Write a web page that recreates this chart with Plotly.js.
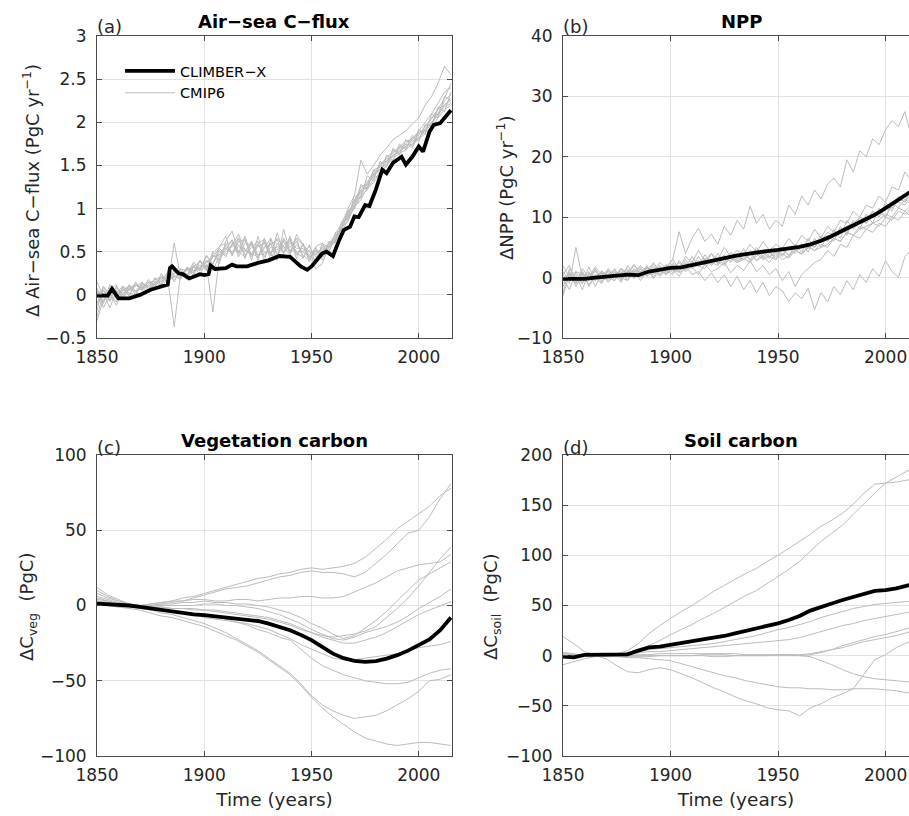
<!DOCTYPE html>
<html>
<head>
<meta charset="utf-8">
<script src="https://cdn.plot.ly/plotly-3.0.1.min.js"></script>
<style>
  html, body { margin: 0; padding: 0; background: #fff; }
  #chart { width: 909px; height: 816px; }
</style>
</head>
<body>
<div id="chart"></div>
<script>
// years of the CMIP6 curves (3-yr samples for the noisy fluxes, 5-yr for the pools)
const years3 = [1850,1853,1856,1859,1862,1865,1868,1871,1874,1877,1880,1883,1886,1889,1892,1895,
  1898,1901,1904,1907,1910,1913,1916,1919,1922,1925,1928,1931,1934,1937,1940,1943,1946,1949,1952,
  1955,1958,1961,1964,1967,1970,1973,1976,1979,1982,1985,1988,1991,1994,1997,2000,2003,2006,2009,
  2012,2015];
const years5 = [1850,1855,1860,1865,1870,1875,1880,1885,1890,1895,1900,1905,1910,1915,1920,1925,
  1930,1935,1940,1945,1950,1955,1960,1965,1970,1975,1980,1985,1990,1995,2000,2005,2010,2015];

// (a) air-sea C flux, PgC/yr
const climberFluxYears = [1850,1855,1857,1860,1865,1870,1875,1880,1883,1884,1885,1888,1890,1893,1895,
  1898,1900,1902,1903,1905,1910,1913,1915,1920,1925,1930,1935,1940,1945,1948,1950,1955,1957,1960,1963,
  1965,1968,1970,1972,1975,1977,1980,1983,1985,1988,1990,1992,1994,1997,2000,2002,2005,2007,2010,2015];
const climberFlux = [-0.01,-0.01,0.07,-0.04,-0.04,0.0,0.06,0.10,0.12,0.31,0.33,0.25,0.24,0.19,0.21,
  0.24,0.23,0.24,0.34,0.30,0.31,0.35,0.33,0.33,0.37,0.40,0.45,0.44,0.33,0.29,0.33,0.48,0.50,0.45,0.64,
  0.75,0.79,0.91,0.90,1.04,1.03,1.22,1.45,1.41,1.53,1.56,1.60,1.51,1.60,1.72,1.66,1.89,1.97,1.99,2.14];
const cmipFlux = [
  [-0.12,0.05,-0.08,0.10,-0.02,0.12,0.00,0.15,0.05,0.20,0.12,0.28,0.15,0.30,0.22,0.38,0.28,0.45,0.35,0.55,0.68,0.45,0.66,0.42,0.62,0.40,0.66,0.45,0.72,0.48,0.66,0.42,0.60,0.38,0.55,0.40,0.62,0.60,0.85,0.88,1.15,1.12,1.38,1.32,1.55,1.48,1.70,1.62,1.80,1.72,1.92,1.86,2.10,2.05,2.30,2.25],
  [0.08,-0.10,0.12,-0.05,0.08,-0.02,0.15,0.05,0.18,0.08,0.25,0.12,0.60,0.20,0.32,0.22,0.40,0.28,0.50,0.36,0.62,0.74,0.48,0.65,0.40,0.68,0.44,0.60,0.40,0.76,0.50,0.66,0.42,0.58,0.36,0.60,0.48,0.72,0.75,0.98,1.00,1.28,1.22,1.45,1.40,1.62,1.55,1.75,1.68,1.85,1.78,1.98,1.95,2.18,2.12,2.35],
  [-0.25,0.02,-0.15,0.05,-0.05,0.08,0.02,0.10,0.02,0.15,0.10,0.18,-0.37,0.25,0.18,0.35,0.22,0.40,0.28,0.45,0.52,0.64,0.44,0.60,0.58,0.42,0.62,0.40,0.60,0.48,0.68,0.46,0.58,0.46,0.40,0.58,0.50,0.65,0.80,0.90,1.10,1.20,1.25,1.42,1.45,1.52,1.68,1.65,1.75,1.70,1.88,1.90,1.98,2.15,2.20,2.28],
  [0.05,-0.15,0.00,-0.08,0.10,0.00,0.12,0.06,0.15,0.10,0.22,0.15,0.25,0.28,0.20,0.32,0.28,0.35,-0.20,0.42,0.50,0.56,0.66,0.46,0.55,0.62,0.40,0.64,0.46,0.66,0.50,0.62,0.46,0.40,0.52,0.44,0.60,0.62,0.76,0.95,1.05,1.15,1.32,1.36,1.50,1.58,1.60,1.72,1.70,1.80,1.85,1.95,2.05,2.10,2.25,2.32],
  [-0.10,0.10,0.00,0.05,0.00,0.10,0.05,0.12,0.10,0.18,0.20,0.22,0.25,0.30,0.28,0.25,0.35,0.30,0.48,0.56,0.60,0.46,0.62,0.64,0.46,0.60,0.64,0.48,0.66,0.56,0.46,0.70,0.58,0.50,0.46,0.55,0.58,0.70,0.82,1.00,1.15,1.56,1.40,1.50,1.62,1.70,1.80,1.85,1.90,1.98,2.05,2.20,2.30,2.45,2.65,2.55],
  [0.15,-0.02,0.05,0.12,-0.05,0.08,0.12,0.05,0.12,0.18,0.15,0.25,0.22,0.18,0.30,0.26,0.40,0.30,0.46,0.40,0.58,0.62,0.50,0.44,0.60,0.46,0.54,0.66,0.46,0.58,0.64,0.48,0.44,0.52,0.30,0.36,0.55,0.62,0.72,0.88,1.02,1.10,1.25,1.30,1.42,1.50,1.62,1.66,1.72,1.75,1.82,1.92,2.00,2.08,2.20,2.25],
  [-0.30,-0.05,0.02,-0.12,0.06,0.02,0.00,0.12,0.08,0.12,0.20,0.15,0.22,0.20,0.32,0.28,0.30,0.46,0.36,0.52,0.44,0.60,0.48,0.68,0.44,0.56,0.60,0.46,0.44,0.64,0.55,0.66,0.58,0.42,0.56,0.60,0.55,0.68,0.78,0.85,1.05,1.22,1.28,1.38,1.52,1.55,1.65,1.70,1.75,1.82,1.88,1.92,2.05,2.15,2.28,2.45],
  [0.02,0.06,-0.06,0.00,0.05,0.10,0.04,0.08,0.15,0.12,0.18,0.24,0.20,0.26,0.24,0.33,0.38,0.32,0.44,0.54,0.46,0.58,0.70,0.52,0.48,0.44,0.56,0.58,0.64,0.48,0.60,0.54,0.54,0.44,0.50,0.52,0.56,0.64,0.76,0.92,1.10,1.25,1.28,1.45,1.48,1.60,1.65,1.72,1.78,1.80,1.90,2.00,2.10,2.22,2.35,2.40],
  [0.00,-0.08,0.08,0.02,0.10,0.05,0.10,0.14,0.10,0.14,0.16,0.20,0.28,0.24,0.30,0.32,0.30,0.38,0.44,0.46,0.54,0.48,0.56,0.50,0.62,0.46,0.48,0.55,0.52,0.62,0.48,0.58,0.50,0.44,0.48,0.54,0.54,0.62,0.80,0.95,1.08,1.18,1.28,1.40,1.45,1.55,1.62,1.68,1.72,1.78,1.82,1.90,1.98,2.10,2.18,2.22],
  [-0.18,0.10,-0.04,0.08,0.02,0.06,0.12,0.08,0.14,0.16,0.12,0.22,0.18,0.25,0.30,0.28,0.32,0.40,0.36,0.48,0.56,0.50,0.58,0.52,0.46,0.58,0.50,0.48,0.56,0.54,0.62,0.50,0.50,0.56,0.44,0.50,0.58,0.66,0.78,0.90,1.00,1.15,1.22,1.35,1.40,1.50,1.58,1.64,1.68,1.75,1.80,1.88,1.95,2.05,2.15,2.20]
];

// (b) NPP, PgC/yr
const climberNpp = [-0.2,-0.2,-0.2,0.0,0.2,0.35,0.5,0.4,1.0,1.3,1.6,1.7,2.1,2.4,2.9,3.2,3.6,3.9,4.2,4.4,
  4.6,4.8,5.1,5.5,6.1,6.9,7.8,8.7,9.6,10.4,11.5,12.6,13.7,15.0];
const cmipNpp = [
  [0.5,2.0,-1.0,1.5,0.0,1.8,0.5,1.2,0.2,1.5,0.8,2.2,0.5,1.8,1.0,2.5,1.5,3.0,7.6,4.0,6.5,8.2,6.0,7.2,5.5,8.5,7.0,9.5,8.0,11.8,9.0,10.5,8.0,9.5,8.5,12.0,10.5,13.5,12.0,14.5,13.0,15.5,16.5,15.0,19.5,17.5,21.0,20.0,23.0,22.0,24.5,26.0,25.0,27.5,23.3,29.5],
  [-1.5,0.8,-0.5,1.0,-1.2,0.5,-0.8,1.2,0.0,1.5,-0.5,1.0,0.2,1.8,-0.2,1.2,0.5,1.5,0.2,2.0,0.5,1.0,-0.5,0.8,-0.8,0.5,-1.5,0.2,-2.0,-0.5,-2.5,-0.8,-3.0,-1.5,-2.2,-4.0,-2.5,-3.5,-1.8,-5.3,-2.5,-4.0,-1.5,-2.8,-0.5,-2.0,0.5,-0.8,1.5,0.2,2.8,1.0,0.0,3.5,4.5,3.0],
  [-2.5,1.5,0.0,-1.0,1.8,-0.5,1.2,0.0,1.5,-0.5,2.0,0.5,1.8,0.2,2.5,1.0,2.2,0.8,2.8,1.5,3.5,2.0,3.8,2.2,4.0,2.5,4.2,3.0,4.8,2.8,5.0,3.5,4.5,3.0,5.0,3.5,5.5,4.2,6.5,5.0,7.0,6.0,8.0,6.5,9.5,8.0,10.0,9.0,11.0,10.0,12.5,11.0,13.5,12.5,15.0,14.0],
  [0.5,-1.0,5.0,0.0,1.0,-1.5,0.8,-0.5,1.0,0.0,-0.5,1.5,0.5,2.0,0.0,1.8,0.5,2.2,1.0,3.0,1.5,3.5,2.0,4.0,2.2,3.8,2.5,4.0,3.0,4.5,2.8,4.2,3.2,4.5,3.5,5.0,4.0,5.5,4.2,6.5,5.0,7.0,6.0,8.5,7.0,9.5,8.0,10.5,9.0,11.5,10.0,12.5,11.5,13.0,12.0,14.5],
  [-0.5,1.0,-1.5,0.5,-0.5,1.2,0.0,1.0,-0.5,1.5,0.5,2.0,0.8,1.5,2.2,0.5,1.8,3.0,1.5,3.5,2.5,4.5,2.8,4.0,3.0,5.0,3.5,4.5,3.8,5.5,4.2,6.0,4.5,5.5,4.8,6.5,5.2,7.0,6.0,8.0,6.5,8.5,7.5,9.5,9.0,11.0,10.0,12.0,11.5,13.5,12.5,15.0,14.5,17.5,16.0,18.5],
  [1.0,-0.5,0.5,-2.0,0.8,0.0,-1.0,1.5,0.5,-0.8,1.2,0.0,1.5,0.2,1.0,2.0,0.8,1.5,2.5,1.2,2.8,1.8,3.2,2.0,3.0,2.2,3.5,2.5,3.0,4.0,2.8,3.5,2.5,4.0,3.0,3.5,4.5,3.8,5.0,4.5,5.5,5.0,6.5,6.0,7.5,7.0,8.0,8.5,9.0,8.5,10.0,9.5,11.0,10.5,11.5,12.0],
  [-1.0,0.5,-0.5,1.0,-1.5,0.2,0.8,-0.8,0.5,1.0,-0.5,1.2,0.0,0.8,1.5,0.2,1.2,0.5,2.0,1.0,1.8,0.5,2.2,1.0,1.5,2.5,0.8,2.0,1.2,2.8,1.0,2.0,0.5,1.5,-0.5,1.0,-1.5,0.5,1.5,2.5,3.0,4.5,3.5,5.5,5.0,7.0,6.5,8.0,7.5,9.0,8.5,10.0,9.5,11.0,10.0,11.5],
  [0.0,-2.0,1.0,0.5,-0.5,1.5,-0.2,0.5,1.2,0.2,1.0,0.8,2.0,1.0,0.5,1.8,1.0,2.5,1.5,2.2,1.8,2.8,2.0,3.0,2.5,3.2,2.8,3.5,3.0,3.8,4.5,3.2,4.0,3.5,4.5,3.8,4.5,5.0,5.5,5.0,6.5,6.0,7.0,8.0,7.5,9.0,9.5,9.0,10.5,11.0,10.0,12.0,12.5,12.0,13.5,13.0],
  [2.0,0.0,1.0,-1.0,0.5,1.0,-0.5,0.0,-0.5,0.8,1.5,-0.2,1.0,1.5,0.8,1.0,2.0,1.2,1.0,2.5,1.8,2.0,3.0,2.5,2.0,3.5,3.2,2.5,4.0,3.0,3.5,4.5,3.5,4.2,3.8,5.0,4.5,5.5,4.8,6.0,6.0,7.5,7.0,8.0,8.5,9.0,10.0,9.5,11.0,10.5,12.0,11.5,13.0,12.5,14.0,13.5],
  [-3.0,0.5,-1.0,0.8,0.0,-0.5,1.0,0.2,0.8,-0.2,0.5,1.2,-0.5,1.0,1.8,0.5,1.5,2.0,0.8,1.5,2.5,2.0,1.5,3.0,2.5,2.0,3.5,2.8,3.2,2.5,4.0,3.0,3.5,3.0,4.0,3.2,4.5,4.0,5.2,4.5,5.0,5.5,6.5,6.0,7.5,7.0,8.5,8.0,9.0,9.5,10.5,10.0,11.5,11.0,12.0,12.5]
];

// (c) vegetation carbon, PgC
const climberVeg = [1.3,1.0,0.7,0.0,-0.9,-2.0,-3.1,-4.2,-5.3,-5.9,-6.4,-7.2,-8.0,-8.6,-9.1,-10.3,-12.0,
  -14.0,-16.4,-19.5,-23.0,-27.5,-32.0,-35.0,-36.8,-37.5,-37.0,-35.3,-33.0,-30.0,-26.4,-22.5,-16.4,-8.0];
const cmipVeg = [
  [10,6,3,1,0,1,2,3,5,6,8,10,12,14,16,18,19,21,22,24,25,24,25,26,28,32,38,44,51,56,61,66,73,78],
  [12,7,4,1,0,0,1,2,3,5,7,9,11,12,13,15,17,19,20,22,23,22,22,21,19,22,28,34,41,48,50,59,71,81],
  [5,3,1,0,0,1,2,3,3,4,4,3,3,4,4,3,4,5,5,6,6,5,5,6,9,12,15,19,23,25,27,28,29,34],
  [3,2,1,0,0,-1,-1,-2,-2,-3,-3,-4,-5,-6,-7,-8,-9,-11,-13,-16,-18,-20,-21,-20,-19,-17,-14,-8,-2,5,13,22,31,39],
  [4,3,1,0,0,0,1,1,2,2,3,2,2,1,1,0,-1,-3,-5,-8,-12,-15,-19,-22,-20,-15,-10,-4,3,10,17,21,25,29],
  [6,4,2,1,0,0,0,0,0,0,1,1,0,0,-1,-2,-4,-6,-9,-12,-16,-19,-22,-23,-21,-18,-16,-14,-11,-7,-2,2,6,11],
  [8,5,3,1,0,-1,-1,-2,-2,-2,-3,-3,-4,-5,-6,-7,-8,-10,-12,-15,-18,-21,-23,-25,-25,-23,-21,-18,-14,-10,-6,-3,0,2.5],
  [2,1,0,0,-1,-2,-3,-4,-5,-6,-8,-9,-10,-11,-12,-14,-16,-19,-22,-26,-29,-32,-35,-36,-36,-35,-34,-33,-32,-30,-28,-27,-26,-24],
  [0,0,-1,-1,-2,-3,-3,-4,-5,-5,-6,-7,-9,-11,-13,-16,-18,-21,-23,-29,-35,-40,-43,-46,-48,-50,-51,-52,-52,-51,-48,-45,-43,-42],
  [3,2,1,0,-1,-3,-5,-6,-8,-10,-12,-15,-18,-22,-26,-30,-35,-40,-45,-52,-60,-66,-70,-73,-75,-74,-73,-70,-66,-62,-57,-50,-49,-46],
  [1,0,-1,-2,-3,-5,-7,-8,-10,-12,-14,-17,-20,-23,-27,-31,-36,-41,-46,-53,-61,-68,-74,-79,-84,-88,-90,-92,-93,-92,-91,-91,-92,-93]
];

// (d) soil carbon, PgC
const climberSoil = [-1.0,-1.7,0.7,0.7,0.7,0.7,1.3,5.0,8.3,9.0,10.6,13.0,14.6,16.3,18.0,19.6,22.3,24.6,
  27.2,29.6,32.2,35.5,39.5,44.9,48.8,52.0,55.5,58.8,62.0,64.5,65.4,67.0,69.8,72.5];
const cmipSoil = [
  [0,0,0,0,0,2,5,12,22,30,37,44,50,57,64,70,76,82,87,94,100,107,114,121,129,135,142,151,162,171,172,173,175,176],
  [2,1,0,0,0,1,3,6,10,15,21,26,31,37,42,48,54,60,65,72,79,86,94,104,114,122,130,141,152,162,172,178,184,188],
  [0,0,0,0,1,2,3,4,6,7,8,9,10,11,12,14,16,18,20,23,26,28,31,34,38,41,44,47,49,51,52,53,54,55],
  [0,0,0,0,0,1,2,3,4,4,5,6,7,8,9,10,11,12,13,14,15,16,18,21,24,27,30,32,35,37,39,41,43,45],
  [3,1,0,0,0,0,0,1,1,2,2,2,2,2,2,2,2,1,1,1,1,1,1,2,4,6,8,11,14,16,18,20,23,26],
  [-9,-6,-3,-1,0,0,0,0,0,0,0,0,0,0,-1,-1,0,0,0,0,0,0,0,1,3,6,10,13,16,19,21,24,27,29],
  [3,2,0,0,-3,-10,-16,-17,-14,-12,-14,-18,-22,-27,-32,-36,-41,-45,-48,-52,-54,-55,-60,-52,-48,-42,-38,-33,-18,-4,1,8,13,16],
  [0,1,0,0,-1,-1,-2,-2,-3,-4,-5,-8,-11,-14,-17,-20,-22,-25,-27,-29,-31,-32,-32,-33,-33,-34,-34,-33,-33,-33,-34,-35,-37,-37],
  [19,12,4,1,0,0,-1,-1,-1,0,0,0,0,1,1,1,0,0,0,0,1,1,0,-1,-5,-9,-14,-18,-21,-23,-24,-25,-26,-27]
];

const FONT = 'DejaVu Sans, Arial, sans-serif';
const W = 909, H = 816;
const px = (x) => x / W;
const py = (y) => 1 - y / H;

const traces = [];
const addPanel = (n, cmipYears, models, climberYears, climberVals, withLegend) => {
  const xa = n === 1 ? 'x' : 'x' + n;
  const ya = n === 1 ? 'y' : 'y' + n;
  models.forEach((vals, i) => {
    traces.push({
      x: cmipYears, y: vals, xaxis: xa, yaxis: ya,
      type: 'scatter', mode: 'lines', name: 'CMIP6',
      line: { color: '#bcbcbc', width: 1 },
      legendrank: 2,
      showlegend: withLegend && i === 0,
    });
  });
  traces.push({
    x: climberYears, y: climberVals, xaxis: xa, yaxis: ya,
    type: 'scatter', mode: 'lines', name: 'CLIMBER−X',
    line: { color: '#000', width: 3.8 },
    legendrank: 1,
    showlegend: withLegend,
  });
};

addPanel(1, years3, cmipFlux, climberFluxYears, climberFlux, true);
addPanel(2, years3, cmipNpp, years5, climberNpp, false);
addPanel(3, years5, cmipVeg, years5, climberVeg, false);
addPanel(4, years5, cmipSoil, years5, climberSoil, false);

// MATLAB-like axes: boxed, inward ticks, light grid
const baseAxis = {
  showline: true, linecolor: '#4a4a4a', linewidth: 1, mirror: 'ticks',
  ticks: 'inside', ticklen: 5, tickcolor: '#4a4a4a', tickwidth: 1,
  showgrid: true, gridcolor: '#e2e2e2', gridwidth: 1, zeroline: false,
  tickfont: { family: FONT, size: 17, color: '#262626' },
  automargin: false,
};
const xAxis = (dom, right, anchor, withTitle) => {
  const ax = Object.assign({}, baseAxis, {
    domain: dom, range: [1850, right], tickvals: [1850, 1900, 1950, 2000],
    anchor: anchor, ticklabelstandoff: 4,
  });
  if (withTitle) {
    ax.title = { text: 'Time (years)', font: { family: FONT, size: 18.5, color: '#262626' }, standoff: 8 };
  }
  return ax;
};
const yAxis = (dom, range, dtick, anchor, mirror) => Object.assign({}, baseAxis, {
  domain: dom, range: range, dtick: dtick, anchor: anchor, ticklabelstandoff: 6,
  mirror: mirror,
});

const colL = [px(97), px(452)];
const colR = [px(563), 1];
const rowT = [py(338), py(36)];
const rowB = [py(756), py(455)];

const panelTitle = (text, x, y) => ({
  text: '<b>' + text + '</b>', x: x, y: y, xref: 'paper', yref: 'paper',
  xanchor: 'center', yanchor: 'middle', showarrow: false,
  font: { family: FONT, size: 18, color: '#000' },
});
const panelLabel = (text, x, y) => ({
  text: text, x: x, y: y, xref: 'paper', yref: 'paper',
  xanchor: 'left', yanchor: 'middle', showarrow: false,
  font: { family: FONT, size: 18, color: '#262626' },
});
const yTitle = (text, x, y) => ({
  text: text, x: x, y: y, xref: 'paper', yref: 'paper', textangle: -90,
  xanchor: 'center', yanchor: 'middle', showarrow: false,
  font: { family: FONT, size: 18, color: '#262626' },
});

const layout = {
  width: W, height: H,
  margin: { l: 0, r: 0, t: 0, b: 0 },
  paper_bgcolor: '#fff', plot_bgcolor: '#fff',
  font: { family: FONT, color: '#262626' },
  xaxis: xAxis(colL, 2015.5, 'y', false),
  yaxis: yAxis(rowT, [-0.5, 3], 0.5, 'x', 'ticks'),
  xaxis2: xAxis(colR, 2010.9, 'y2', false),
  yaxis2: yAxis(rowT, [-10, 40], 10, 'x2', false),
  xaxis3: xAxis(colL, 2015.5, 'y3', true),
  yaxis3: yAxis(rowB, [-100, 100], 50, 'x3', 'ticks'),
  xaxis4: xAxis(colR, 2010.9, 'y4', true),
  yaxis4: yAxis(rowB, [-100, 200], 50, 'x4', false),
  showlegend: true,
  legend: {
    x: px(120), y: py(55), xanchor: 'left', yanchor: 'top',
    bgcolor: 'rgba(0,0,0,0)', borderwidth: 0, itemwidth: 50,
    font: { family: FONT, size: 14.5, color: '#000' },
    tracegroupgap: 0,
  },
  annotations: [
    panelTitle('Air−sea C−flux', px(274), py(21)),
    panelTitle('NPP', px(741), py(21)),
    panelTitle('Vegetation carbon', px(274), py(440)),
    panelTitle('Soil carbon', px(741), py(440)),
    panelLabel('(a)', px(95), py(26)),
    panelLabel('(b)', px(561), py(26)),
    panelLabel('(c)', px(95), py(447)),
    panelLabel('(d)', px(561), py(447)),
    yTitle('Δ Air−sea C−flux (PgC yr<sup>−1</sup>)', px(31), py(191)),
    yTitle('ΔNPP (PgC yr<sup>−1</sup>)', px(505), py(188)),
    yTitle('ΔC<sub>veg</sub>  (PgC)', px(28), py(607)),
    yTitle('ΔC<sub>soil</sub>  (PgC)', px(492), py(607)),
  ],
  hovermode: false,
};

Plotly.newPlot('chart', traces, layout, { displayModeBar: false, staticPlot: true });
</script>
</body>
</html>
